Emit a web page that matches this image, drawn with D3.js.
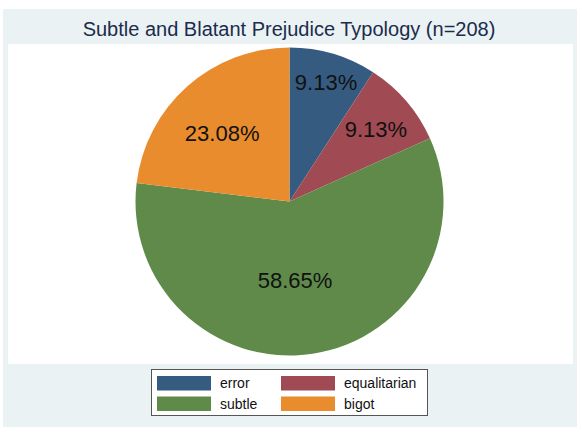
<!DOCTYPE html>
<html>
<head>
<meta charset="utf-8">
<script src="https://cdn.jsdelivr.net/npm/d3@7"></script>
<style>
  html, body { margin: 0; padding: 0; background: #ffffff; }
  svg { display: block; font-family: "Liberation Sans", Arial, Helvetica, sans-serif; }
</style>
</head>
<body>
<svg id="chart" width="582" height="435"></svg>
<script>
// ---- data ----
const categories = ["error", "equalitarian", "subtle", "bigot"];
const counts = [19, 19, 122, 48];
const percentLabels = ["9.13%", "9.13%", "58.65%", "23.08%"];
const colors = ["#355b81", "#a04a53", "#5f8a4a", "#e88c2e"];
const title = "Subtle and Blatant Prejudice Typology (n=208)";

// ---- layout (not data) ----
const labelRadiusFrac = [0.81, 0.73, 0.51, 0.625];
const labelAngleShift = [0.01, 0.015, 0.08, -0.05];

const svg = d3.select("#chart");

// outer graph region
svg.append("rect").attr("x", 3).attr("y", 9).attr("width", 574).attr("height", 418)
  .attr("fill", "#eaf2f3");
// inner plot region
svg.append("rect").attr("x", 8).attr("y", 44).attr("width", 565).attr("height", 320)
  .attr("fill", "#ffffff");

// title
svg.append("text").attr("x", 289).attr("y", 36).attr("text-anchor", "middle")
  .attr("font-size", 20).attr("fill", "#1c2c4c").text(title);

// pie
const cx = 289.5, cy = 201.5, r = 154;
const pie = d3.pie().sort(null).value(d => d);
const arcs = pie(counts);
const arc = d3.arc().innerRadius(0).outerRadius(r);
const g = svg.append("g").attr("transform", `translate(${cx},${cy})`);
g.selectAll("path.slice").data(arcs).enter().append("path")
  .attr("class", "slice")
  .attr("d", arc)
  .attr("fill", (d, i) => colors[i])
  .attr("stroke", "none");

// labels
g.selectAll("text.plabel").data(arcs).enter().append("text")
  .attr("class", "plabel")
  .attr("transform", (d, i) => {
    const a = (d.startAngle + d.endAngle) / 2 + labelAngleShift[i];
    const rr = r * labelRadiusFrac[i];
    return `translate(${rr * Math.sin(a)},${-rr * Math.cos(a)})`;
  })
  .attr("text-anchor", "middle")
  .attr("dy", "0.36em")
  .attr("font-size", 22)
  .attr("fill", "#111111")
  .text((d, i) => percentLabels[i]);

// legend
const lg = svg.append("g");
lg.append("rect").attr("x", 151.5).attr("y", 369.5).attr("width", 276).attr("height", 46)
  .attr("fill", "#ffffff").attr("stroke", "#555555").attr("stroke-width", 1);
const colX = [157, 281];
const rowY = [376, 396.5];
const items = lg.selectAll("g.item").data(categories).enter().append("g")
  .attr("class", "item")
  .attr("transform", (d, i) => `translate(${colX[i % 2]},${rowY[Math.floor(i / 2)]})`);
items.append("rect").attr("width", 54).attr("height", 14.5)
  .attr("fill", (d, i) => colors[i]);
items.append("text").attr("x", 63).attr("y", 7.25).attr("dy", "0.36em")
  .attr("font-size", 14).attr("fill", "#111111").text(d => d);
</script>
</body>
</html>
